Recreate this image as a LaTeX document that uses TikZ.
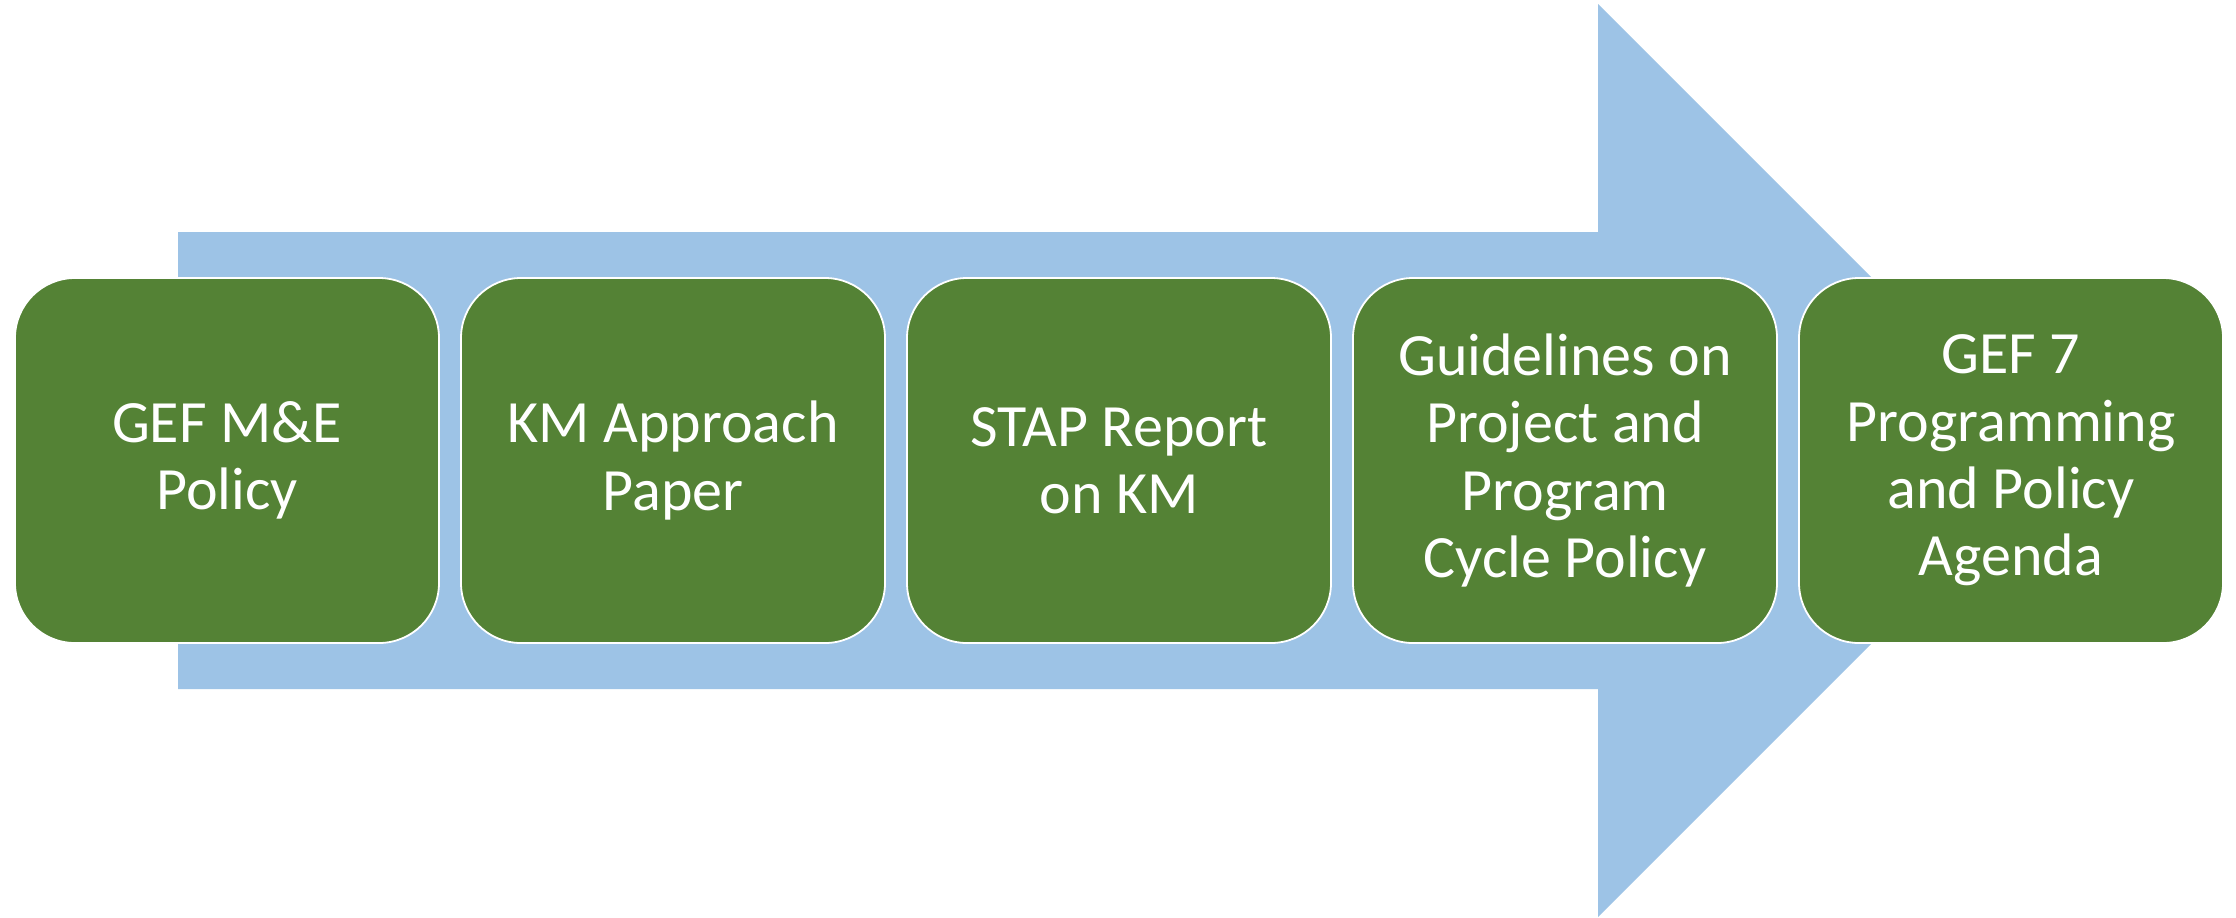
\documentclass[tikz,border=0pt]{standalone}
\usepackage{fontspec}
\setmainfont{Carlito}
\definecolor{arrowblue}{HTML}{9DC3E6}
\definecolor{boxgreen}{HTML}{548235}
\tikzset{
  stagebox/.style={draw=white, line width=0.9pt, fill=boxgreen, rounded corners=30pt,
    minimum width=212pt, minimum height=182.5pt, inner sep=0pt, text=white,
    align=center, font=\fontsize{30pt}{33.7pt}\selectfont},
  bigarrow/.style={fill=arrowblue, draw=none}
}
\begin{document}
\begin{tikzpicture}[x=0.5pt, y=-0.5pt]
\useasboundingbox (0,0) rectangle (2236,917);
\fill[white] (0,0) rectangle (2236,917);
\path[bigarrow] (178,232) -- (1598,232) -- (1598,4) -- (2054.5,460.5) -- (1598,917) -- (1598,689) -- (178,689) -- cycle;
\node[stagebox] (b1) at (227,460.5) {GEF M\&E\\Policy};
\node[stagebox] (b2) at (673,460.5) {KM Approach\\Paper};
\node[stagebox] (b3) at (1119,460.5) {STAP Report\\on KM};
\node[stagebox] (b4) at (1565,460.5) {Guidelines on\\Project and\\Program\\Cycle Policy};
\node[stagebox] (b5) at (2011,460.5) {GEF 7\\Programming\\and Policy\\Agenda};
\end{tikzpicture}
\end{document}
